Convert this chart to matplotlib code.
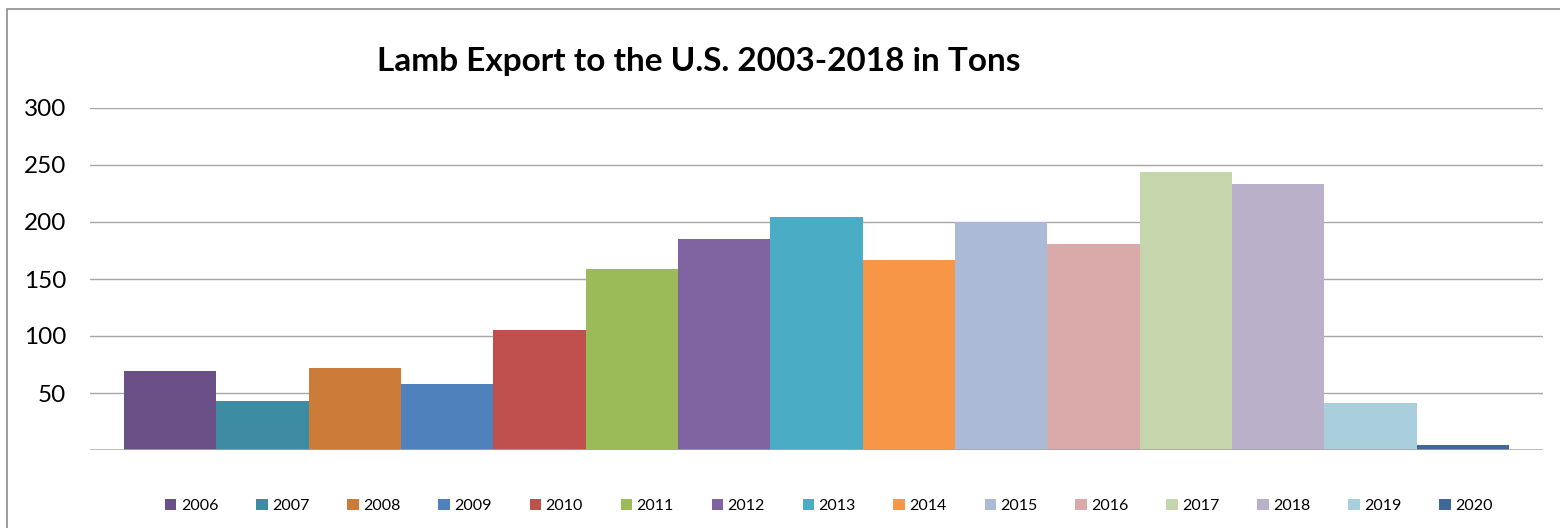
import matplotlib
matplotlib.use("Agg")
import matplotlib.pyplot as plt
from matplotlib.patches import Rectangle, Patch

years = ["2006", "2007", "2008", "2009", "2010", "2011", "2012", "2013",
         "2014", "2015", "2016", "2017", "2018", "2019", "2020"]
values = [69, 43, 72, 58, 105, 159, 185, 204, 167, 200, 181, 244, 233, 41, 4]
colors = ["#6A5086", "#3D8CA3", "#CD7B38", "#4F81BD", "#C0504D", "#9BBB59",
          "#8064A2", "#4BACC6", "#F79646", "#AABAD7", "#D9AAA9", "#C6D6AC",
          "#BAB0C9", "#A9CEDC", "#3F6797"]
yticks = [50, 100, 150, 200, 250, 300]

plt.rcParams['font.family'] = ['Lato', 'DejaVu Sans']

W, H = 1560, 528
fig = plt.figure(figsize=(W / 100, H / 100), dpi=100)
fig.patches.append(Rectangle((7 / W, -0.1), 1.2, 1 - 9 / H + 0.1,
                             transform=fig.transFigure, fill=False,
                             edgecolor="#8C8C8C", linewidth=1.2))

ax = fig.add_axes([90 / W, 1 - 450 / H, (1543 - 90) / W, (450 - 108) / H])
x = list(range(len(years)))
ax.bar(x, values, width=1.0, color=colors, zorder=3)
ax.set_xlim(-0.87, len(years) - 1 + 0.87)
ax.set_ylim(0, 300)
ax.set_yticks(yticks)
ax.set_yticklabels([str(t) for t in yticks], fontsize=17.5)
ax.tick_params(axis='y', length=0, pad=17)
ax.set_xticks([])
for t in yticks:
    ax.axhline(t, color="#A6A6A6", linewidth=1.0, zorder=1)
ax.axhline(0, color="#A6A6A6", linewidth=1.8, zorder=4)
for s in ax.spines.values():
    s.set_visible(False)

fig.text(699 / W, 1 - 61 / H, "Lamb Export to the U.S. 2003-2018 in Tons",
         ha="center", va="center", fontsize=24, fontweight="bold")

handles = [Patch(facecolor=c, edgecolor="none") for c in colors]
fig.legend(handles, years, ncol=len(years), loc="center",
           bbox_to_anchor=(829 / W, 1 - 506 / H), frameon=False,
           fontsize=11.5, handlelength=0.7, handleheight=0.7,
           handletextpad=0.3, columnspacing=2.36)

fig.savefig("out.png", dpi=100)
